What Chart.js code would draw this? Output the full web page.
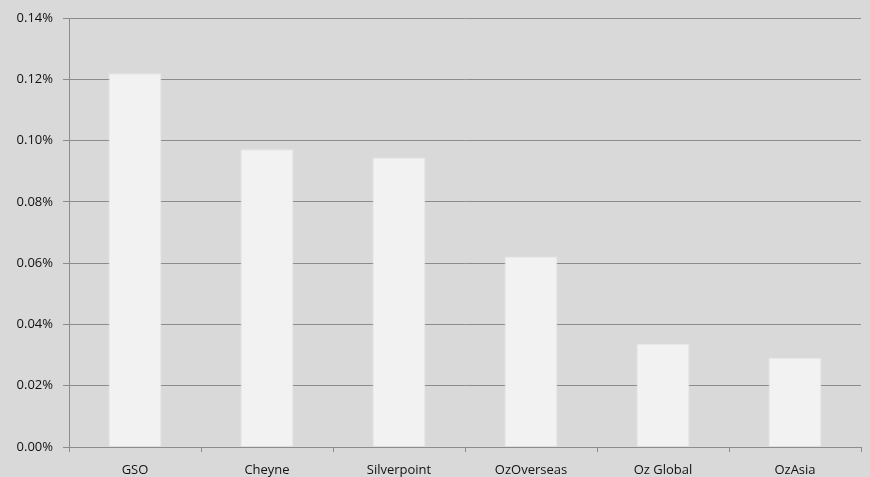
<!DOCTYPE html>
<html>
<head>
<meta charset="utf-8">
<script src="https://cdn.jsdelivr.net/npm/chart.js@4.4.0/dist/chart.umd.min.js"></script>
<style>
  html, body { margin: 0; padding: 0; background: #d9d9d9; }
  #wrap { width: 870px; height: 477px; position: relative; }
</style>
</head>
<body>
<div id="wrap"><canvas id="c" width="870" height="477"></canvas></div>
<script>
const categories = ["GSO", "Cheyne", "Silverpoint", "OzOverseas", "Oz Global", "OzAsia"];
const values = [0.1220, 0.0972, 0.0945, 0.0622, 0.0336, 0.0291];
const yMin = 0, yMax = 0.14, yStep = 0.02;

const gridColor = '#8c8c8c';
new Chart(document.getElementById('c'), {
  type: 'bar',
  data: {
    labels: categories,
    datasets: [{
      data: values,
      backgroundColor: '#f2f2f2',
      borderColor: '#e8e8e8',
      borderWidth: 1,
      barPercentage: 0.4,
      categoryPercentage: 1.0
    }]
  },
  options: {
    responsive: false,
    animation: false,
    devicePixelRatio: 1,
    layout: { padding: { top: 18, right: 9, left: 0, bottom: 0 } },
    plugins: { legend: { display: false }, tooltip: { enabled: false } },
    scales: {
      x: {
        grid: { drawOnChartArea: false, drawTicks: true, tickLength: 5, color: gridColor, offset: true },
        border: { color: gridColor, width: 1 },
        ticks: { color: '#111', font: { family: 'Open Sans', size: 13 }, padding: 10, maxRotation: 0 },
        afterFit: (s) => { s.height = 30; }
      },
      y: {
        min: yMin, max: yMax,
        grid: { color: gridColor, tickLength: 6 },
        border: { color: gridColor, width: 1 },
        ticks: {
          stepSize: yStep,
          color: '#111',
          font: { family: 'Open Sans', size: 13 },
          padding: 10,
          callback: (v) => v.toFixed(2) + '%'
        },
        afterFit: (s) => { s.width = 69; }
      }
    }
  }
});
</script>
</body>
</html>
